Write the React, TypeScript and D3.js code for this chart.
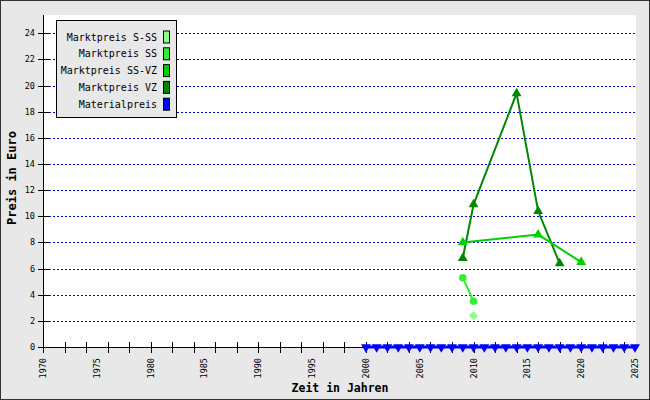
import React from "react";
import * as d3 from "d3";

// series values
const vzYears = [2009, 2010, 2014, 2016, 2018];
const vzValues = [6.8, 10.9, 19.4, 10.4, 6.4];
const ssvzYears = [2009, 2016, 2020];
const ssvzValues = [8.0, 8.6, 6.5];
const ssYears = [2009, 2010];
const ssValues = [5.3, 3.5];
const sssYears = [2010];
const sssValues = [2.4];
const materialYears = [
  2000, 2001, 2002, 2003, 2004, 2005, 2006, 2007, 2008, 2009, 2010, 2011, 2012,
  2013, 2014, 2015, 2016, 2017, 2018, 2019, 2020, 2021, 2022, 2023, 2024, 2025,
];
const materialValues = [
  0, 0, 0, 0, 0, 0, 0, 0, 0, 0, 0, 0, 0, 0, 0, 0, 0, 0, 0, 0, 0, 0, 0, 0, 0, 0,
];

const yTicks = [0, 2, 4, 6, 8, 10, 12, 14, 16, 18, 20, 22, 24];
const xMinorTicks = [
  1970, 1972, 1974, 1976, 1978, 1980, 1982, 1984, 1986, 1988, 1990, 1992, 1994,
  1996, 1998, 2000, 2002, 2004, 2006, 2008, 2010, 2012, 2014, 2016, 2018, 2020,
  2022, 2024,
];
const xLabels = [1970, 1975, 1980, 1985, 1990, 1995, 2000, 2005, 2010, 2015, 2020, 2025];

const legendNames = [
  "Marktpreis S-SS",
  "Marktpreis SS",
  "Marktpreis SS-VZ",
  "Marktpreis VZ",
  "Materialpreis",
];
const legendColors = ["#88ff88", "#33ee33", "#00d000", "#008800", "#0000ff"];

const W = 650;
const H = 400;
const mono = "'DejaVu Sans Mono', monospace";

export default function App() {
  const x = d3.scaleLinear().domain([1970, 2025]).range([43, 635]);
  const y = d3.scaleLinear().domain([0, 25.4]).range([347, 15]);

  const line = d3
    .line<[number, number]>()
    .x((d) => x(d[0]))
    .y((d) => y(d[1]));

  const zip = (a: number[], b: number[]) =>
    a.map((v, i) => [v, b[i]] as [number, number]);

  const tri = d3.symbol(d3.symbolTriangle, 42)()!;
  const diamond = "M0,-4.5L4.5,0L0,4.5L-4.5,0Z";

  const series = [
    { pts: zip(vzYears, vzValues), color: legendColors[3], mark: "tri" },
    { pts: zip(ssvzYears, ssvzValues), color: legendColors[2], mark: "tri" },
    { pts: zip(ssYears, ssValues), color: legendColors[1], mark: "circle" },
    { pts: zip(sssYears, sssValues), color: legendColors[0], mark: "diamond" },
  ];

  const mat = zip(materialYears, materialValues);

  return (
    <>
      <style>{"body{margin:0}"}</style>
      <svg width={W} height={H} style={{ display: "block" }}>
        <rect x={0.5} y={0.5} width={W - 1} height={H - 1} fill="#e8e8e8" stroke="#333" />
        <rect x={43} y={15} width={593} height={332} fill="#fff" />

        {/* grid */}
        {yTicks.filter((t) => t > 0).map((t) => (
          <line
            key={"g" + t}
            x1={45}
            x2={636}
            y1={Math.round(y(t)) + 0.5}
            y2={Math.round(y(t)) + 0.5}
            stroke="#0000ee"
            strokeDasharray="2,2"
          />
        ))}

        {/* axes */}
        <line x1={43.5} x2={43.5} y1={15} y2={352} stroke="#000" />
        <line x1={38} x2={636} y1={347.5} y2={347.5} stroke="#000" />
        {yTicks.map((t) => (
          <g key={"y" + t}>
            <line x1={38} x2={49} y1={Math.round(y(t)) + 0.5} y2={Math.round(y(t)) + 0.5} stroke="#000" />
            <text
              x={35}
              y={y(t)}
              dy="0.35em"
              textAnchor="end"
              fontFamily={mono}
              fontSize={8.5}
            >
              {t}
            </text>
          </g>
        ))}
        {xMinorTicks.map((t) => (
          <line
            key={"x" + t}
            x1={Math.round(x(t)) + 0.5}
            x2={Math.round(x(t)) + 0.5}
            y1={342}
            y2={353}
            stroke="#000"
          />
        ))}
        {xLabels.map((t) => (
          <text
            key={"xl" + t}
            transform={`translate(${x(t)},358) rotate(-90)`}
            textAnchor="end"
            dy="0.35em"
            fontFamily={mono}
            fontSize={8.5}
          >
            {t}
          </text>
        ))}

        <text
          x={340}
          y={392}
          textAnchor="middle"
          fontFamily={mono}
          fontWeight="bold"
          fontSize={11.5}
        >
          Zeit in Jahren
        </text>
        <text
          transform="translate(16,178) rotate(-90)"
          textAnchor="middle"
          fontFamily={mono}
          fontWeight="bold"
          fontSize={12}
        >
          Preis in Euro
        </text>

        {/* series */}
        {series.map((s, i) => (
          <g key={"s" + i}>
            <path d={line(s.pts)!} fill="none" stroke={s.color} strokeWidth={2} />
            {s.pts.map((p, j) =>
              s.mark === "circle" ? (
                <circle key={j} cx={x(p[0])} cy={y(p[1])} r={3.8} fill={s.color} />
              ) : (
                <path
                  key={j}
                  d={s.mark === "tri" ? tri : diamond}
                  transform={`translate(${x(p[0])},${y(p[1])})`}
                  fill={s.color}
                />
              )
            )}
          </g>
        ))}

        <path d={line(mat)!} fill="none" stroke="#0000ff" strokeWidth={3} />
        {mat.map((p, j) => (
          <path
            key={"m" + j}
            d={tri}
            transform={`translate(${x(p[0])},${y(p[1])}) rotate(180)`}
            fill="#0000ff"
          />
        ))}

        {/* legend */}
        <rect x={56.5} y={20.5} width={120} height={97} fill="#e8e8e8" stroke="#000" />
        {legendNames.map((n, i) => {
          const cy = 37 + i * 16.8;
          return (
            <g key={"l" + i}>
              <text
                x={157}
                y={cy}
                dy="0.35em"
                textAnchor="end"
                fontFamily={mono}
                fontSize={10}
              >
                {n}
              </text>
              <rect
                x={163.5}
                y={cy - 6}
                width={6}
                height={12}
                fill={legendColors[i]}
                stroke="#000"
              />
            </g>
          );
        })}
      </svg>
    </>
  );
}
